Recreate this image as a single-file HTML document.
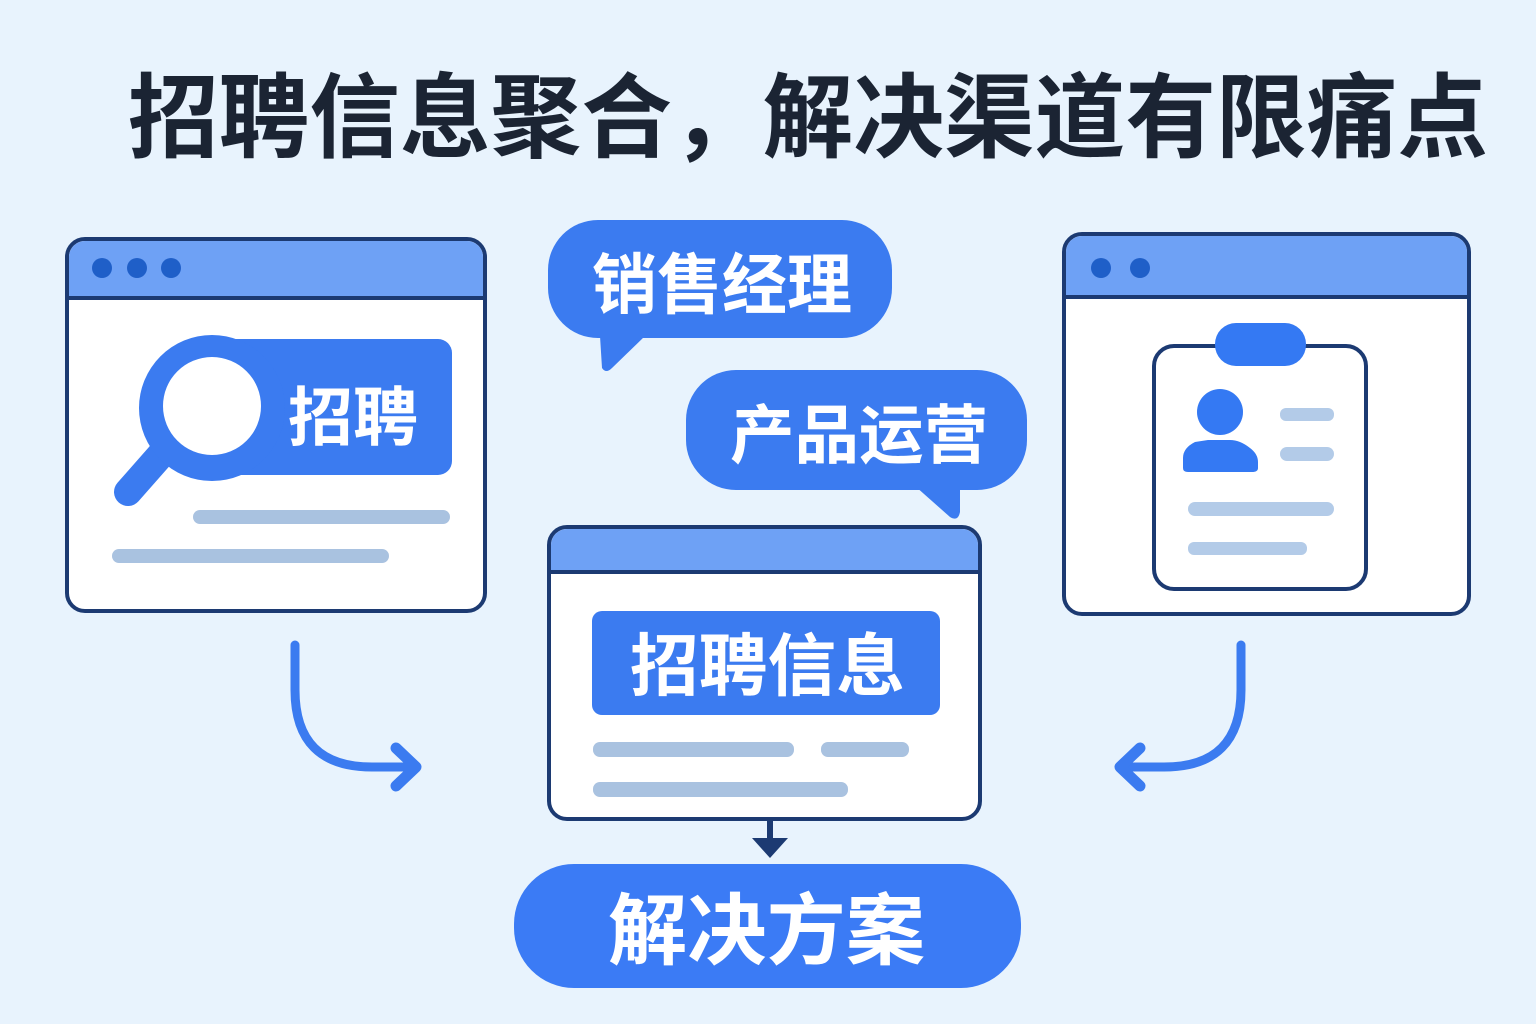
<!DOCTYPE html>
<html><head><meta charset="utf-8"><style>
html,body{margin:0;padding:0;background:#e8f3fd;}
svg{display:block}
text{font-family:"Liberation Sans","Noto Sans CJK SC",sans-serif;font-weight:bold}
</style></head><body>
<svg width="1536" height="1024" viewBox="0 0 1536 1024" xmlns="http://www.w3.org/2000/svg">
<rect width="1536" height="1024" fill="#e8f3fd"/>
<text x="128" y="150" font-size="92" fill="#1b2433" textLength="1360" lengthAdjust="spacingAndGlyphs">招聘信息聚合，解决渠道有限痛点</text>

<!-- left window -->
<rect x="67" y="239" width="418" height="372" rx="18" fill="#fff" stroke="#1c3a72" stroke-width="4"/>
<path d="M69 298 V257 a16 16 0 0 1 16 -16 H467 a16 16 0 0 1 16 16 V298 Z" fill="#6ea1f5"/>
<line x1="67" y1="298" x2="485" y2="298" stroke="#1c3a72" stroke-width="4"/>
<circle cx="102" cy="268" r="10" fill="#1f5fc8"/><circle cx="137" cy="268" r="10" fill="#1f5fc8"/><circle cx="171" cy="268" r="10" fill="#1f5fc8"/>
<rect x="205" y="339" width="247" height="136" rx="14" fill="#3b7bf0"/>
<line x1="165" y1="450" x2="128" y2="492" stroke="#3b7bf0" stroke-width="28" stroke-linecap="round"/>
<circle cx="212" cy="408" r="73" fill="#3b7bf0"/>
<circle cx="212" cy="406" r="49" fill="#fff"/>
<text x="288" y="440" font-size="64" fill="#fff" textLength="130" lengthAdjust="spacingAndGlyphs">招聘</text>
<rect x="193" y="510" width="257" height="14" rx="7" fill="#a9c2e0"/>
<rect x="112" y="549" width="277" height="14" rx="7" fill="#a9c2e0"/>

<!-- bubbles -->
<path d="M600 336 L602 368 Q606 374 612 368 L645 336 Z" fill="#3b7bf0"/>
<rect x="548" y="220" width="344" height="118" rx="50" fill="#3b7bf0"/>
<text x="592" y="308" font-size="66" fill="#fff" textLength="260" lengthAdjust="spacingAndGlyphs">销售经理</text>
<path d="M915 486 L950 517 Q958 522 960 512 L960 486 Z" fill="#3b7bf0"/>
<rect x="686" y="370" width="341" height="120" rx="50" fill="#3b7bf0"/>
<text x="730" y="458" font-size="64" fill="#fff" textLength="258" lengthAdjust="spacingAndGlyphs">产品运营</text>

<!-- center window -->
<rect x="549" y="527" width="431" height="292" rx="18" fill="#fff" stroke="#1c3a72" stroke-width="4"/>
<path d="M551 572 V545 a16 16 0 0 1 16 -16 H962 a16 16 0 0 1 16 16 V572 Z" fill="#6ea1f5"/>
<line x1="549" y1="572" x2="980" y2="572" stroke="#1c3a72" stroke-width="4"/>
<rect x="592" y="611" width="348" height="104" rx="10" fill="#3b7bf0"/>
<text x="630" y="690" font-size="68" fill="#fff" textLength="275" lengthAdjust="spacingAndGlyphs">招聘信息</text>
<rect x="593" y="742" width="201" height="15" rx="7" fill="#a9c2e0"/>
<rect x="821" y="742" width="88" height="15" rx="7" fill="#a9c2e0"/>
<rect x="593" y="782" width="255" height="15" rx="7" fill="#a9c2e0"/>

<!-- down arrow -->
<line x1="770" y1="820" x2="770" y2="845" stroke="#1c3a72" stroke-width="6"/>
<path d="M752 838 L788 838 L770 858 Z" fill="#1c3a72"/>

<!-- solution -->
<rect x="514" y="864" width="507" height="124" rx="60" fill="#3b7bf5"/>
<text x="608" y="958" font-size="78" fill="#fff" textLength="317" lengthAdjust="spacingAndGlyphs">解决方案</text>

<!-- right window -->
<rect x="1064" y="234" width="405" height="380" rx="18" fill="#fff" stroke="#1c3a72" stroke-width="4"/>
<path d="M1066 297 V252 a16 16 0 0 1 16 -16 H1451 a16 16 0 0 1 16 16 V297 Z" fill="#6ea1f5"/>
<line x1="1064" y1="297" x2="1469" y2="297" stroke="#1c3a72" stroke-width="4"/>
<circle cx="1101" cy="268" r="10" fill="#1f5fc8"/><circle cx="1140" cy="268" r="10" fill="#1f5fc8"/>
<rect x="1154" y="346" width="212" height="243" rx="20" fill="#fff" stroke="#1c3a72" stroke-width="4"/>
<rect x="1215" y="323" width="91" height="43" rx="21" fill="#3479f3"/>
<circle cx="1220" cy="412" r="23" fill="#3479f3"/>
<path d="M1183 468 V458 Q1183 448 1195 442 L1208 440 H1230 Q1240 440 1250 448 Q1258 454 1258 462 V468 Q1258 472 1252 472 H1188 Q1183 472 1183 468 Z" fill="#3479f3"/>
<rect x="1280" y="408" width="54" height="13" rx="6" fill="#b3cbe8"/>
<rect x="1280" y="447" width="54" height="14" rx="7" fill="#b3cbe8"/>
<rect x="1188" y="502" width="146" height="14" rx="7" fill="#b3cbe8"/>
<rect x="1188" y="542" width="119" height="13" rx="6" fill="#b3cbe8"/>

<!-- curved arrows -->
<path d="M295 645 V690 Q295 767 372 767 H410" fill="none" stroke="#3b7bf0" stroke-width="9" stroke-linecap="round"/>
<path d="M396 748 L416 767 L396 786" fill="none" stroke="#3b7bf0" stroke-width="11" stroke-linecap="round" stroke-linejoin="round"/>
<path d="M1241 645 V690 Q1241 767 1164 767 H1126" fill="none" stroke="#3b7bf0" stroke-width="9" stroke-linecap="round"/>
<path d="M1140 748 L1120 767 L1140 786" fill="none" stroke="#3b7bf0" stroke-width="11" stroke-linecap="round" stroke-linejoin="round"/>
</svg>
</body></html>
